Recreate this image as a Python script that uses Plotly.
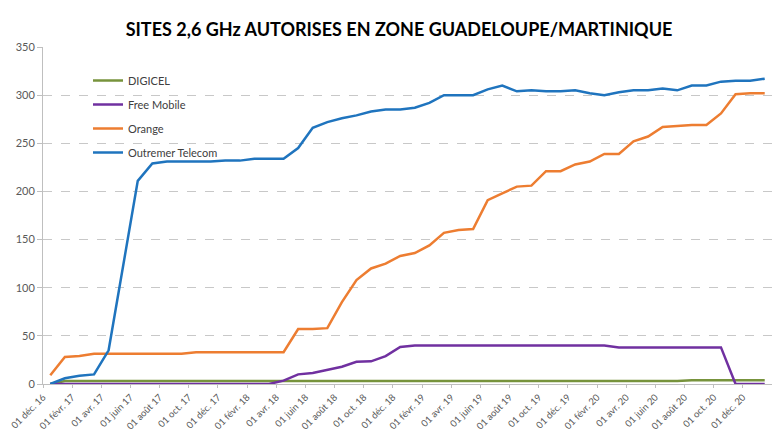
import plotly.graph_objects as go

# Monthly points, Dec 2016 .. Jan 2021 (50 months)
months = ["2016-12", "2017-01", "2017-02", "2017-03", "2017-04", "2017-05", "2017-06", "2017-07",
          "2017-08", "2017-09", "2017-10", "2017-11", "2017-12", "2018-01", "2018-02", "2018-03",
          "2018-04", "2018-05", "2018-06", "2018-07", "2018-08", "2018-09", "2018-10", "2018-11",
          "2018-12", "2019-01", "2019-02", "2019-03", "2019-04", "2019-05", "2019-06", "2019-07",
          "2019-08", "2019-09", "2019-10", "2019-11", "2019-12", "2020-01", "2020-02", "2020-03",
          "2020-04", "2020-05", "2020-06", "2020-07", "2020-08", "2020-09", "2020-10", "2020-11",
          "2020-12", "2021-01"]

digicel = [0] + [3] * 43 + [4] * 6

free_mobile = [0] * 16 + [3.5, 10, 11.5, 15, 18, 23, 23.5, 29, 38.5, 40] + [40] * 13 + [38] * 8 + [0, 0, 0]

orange = [9, 28, 29, 31.5, 31.5, 31.5, 31.5, 31.5, 31.5, 31.5, 33, 33, 33, 33, 33, 33, 33,
          57, 57, 58, 85, 108, 120, 125, 133, 136, 144, 157, 160, 161, 191, 198, 205, 206,
          221, 221, 228, 231, 239, 239, 252, 257, 267, 268, 269, 269, 281, 301, 302, 302]

outremer = [0, 6, 8.5, 10, 35, 125, 211, 229, 231, 231, 231, 231, 232, 232, 234, 234, 234,
            245, 266, 272, 276, 279, 283, 285, 285, 287, 292, 300, 300, 300, 306, 310, 304, 305,
            304, 304, 305, 302, 300, 303, 305, 305, 307, 305, 310, 310, 314, 315, 315, 317]

tick_labels = ["01 déc. 16", "01 févr. 17", "01 avr. 17", "01 juin 17", "01 août 17", "01 oct. 17",
               "01 déc. 17", "01 févr. 18", "01 avr. 18", "01 juin 18", "01 août 18", "01 oct. 18",
               "01 déc. 18", "01 févr. 19", "01 avr. 19", "01 juin 19", "01 août 19", "01 oct. 19",
               "01 déc. 19", "01 févr. 20", "01 avr. 20", "01 juin 20", "01 août 20", "01 oct. 20",
               "01 déc. 20"]

series_names = ["DIGICEL", "Free Mobile", "Orange", "Outremer Telecom"]
series_values = [digicel, free_mobile, orange, outremer]
series_colors = ["#77933C", "#7030A0", "#ED7D31", "#1F74BE"]

title = "SITES 2,6 GHz AUTORISES EN ZONE GUADELOUPE/MARTINIQUE"

n = len(months)
xs = list(range(n))
# ticks at month boundaries, every 2 months
tickvals = [i - 0.5 for i in range(0, n, 2)] + [n - 0.5]
ticktext = tick_labels + [""]

fig = go.Figure()
for name, vals, col in zip(series_names, series_values, series_colors):
    fig.add_trace(go.Scatter(
        x=xs, y=vals, mode="lines", name=name, legendgroup=name,
        line=dict(color=col, width=2.5),
        hovertext=months,
    ))

# page body has an 8px margin, so the figure is sized/positioned accordingly
W, H = 772, 423
L, R, T, B = 35, 8, 39, 47

fig.update_layout(
    width=W, height=H,
    margin=dict(l=L, r=R, t=T, b=B, autoexpand=False),
    paper_bgcolor="white", plot_bgcolor="white",
    font=dict(family="Lato, Carlito, Calibri, sans-serif", color="#595959", size=11),
    title=dict(text=title, x=391 / W, xanchor="center", xref="container",
               y=1 - 22 / H, yanchor="middle", yref="container",
               font=dict(family="Lato, Carlito, Calibri, sans-serif", size=18, color="#000000",
                         weight="bold")),
    showlegend=True,
    legend=dict(x=(80 - L) / (W - L - R), xanchor="left", y=1 - (58 - T) / (H - T - B),
                yanchor="top", bgcolor="rgba(0,0,0,0)", borderwidth=0,
                font=dict(size=11, color="#404040"), tracegroupgap=5,
                traceorder="grouped"),
    xaxis=dict(range=[-0.5, n - 0.5], tickmode="array", tickvals=tickvals, ticktext=ticktext,
               tickangle=-45, tickfont=dict(size=9.5, color="#595959"),
               ticklabeloverflow="allow",
               showgrid=False, zeroline=False, showline=True, linecolor="#BFBFBF", linewidth=1,
               ticks="outside", ticklen=3, tickcolor="#BFBFBF", automargin=False),
    yaxis=dict(range=[0, 350], tickmode="array", tickvals=[0, 50, 100, 150, 200, 250, 300, 350],
               tickfont=dict(size=11, color="#595959"),
               showgrid=True, gridcolor="#C8C8C8", griddash="dash", gridwidth=1,
               zeroline=False, showline=True, linecolor="#BFBFBF", linewidth=1,
               ticks="outside", ticklen=5, tickcolor="#BFBFBF", automargin=False),
)

fig.write_html("out.html")
